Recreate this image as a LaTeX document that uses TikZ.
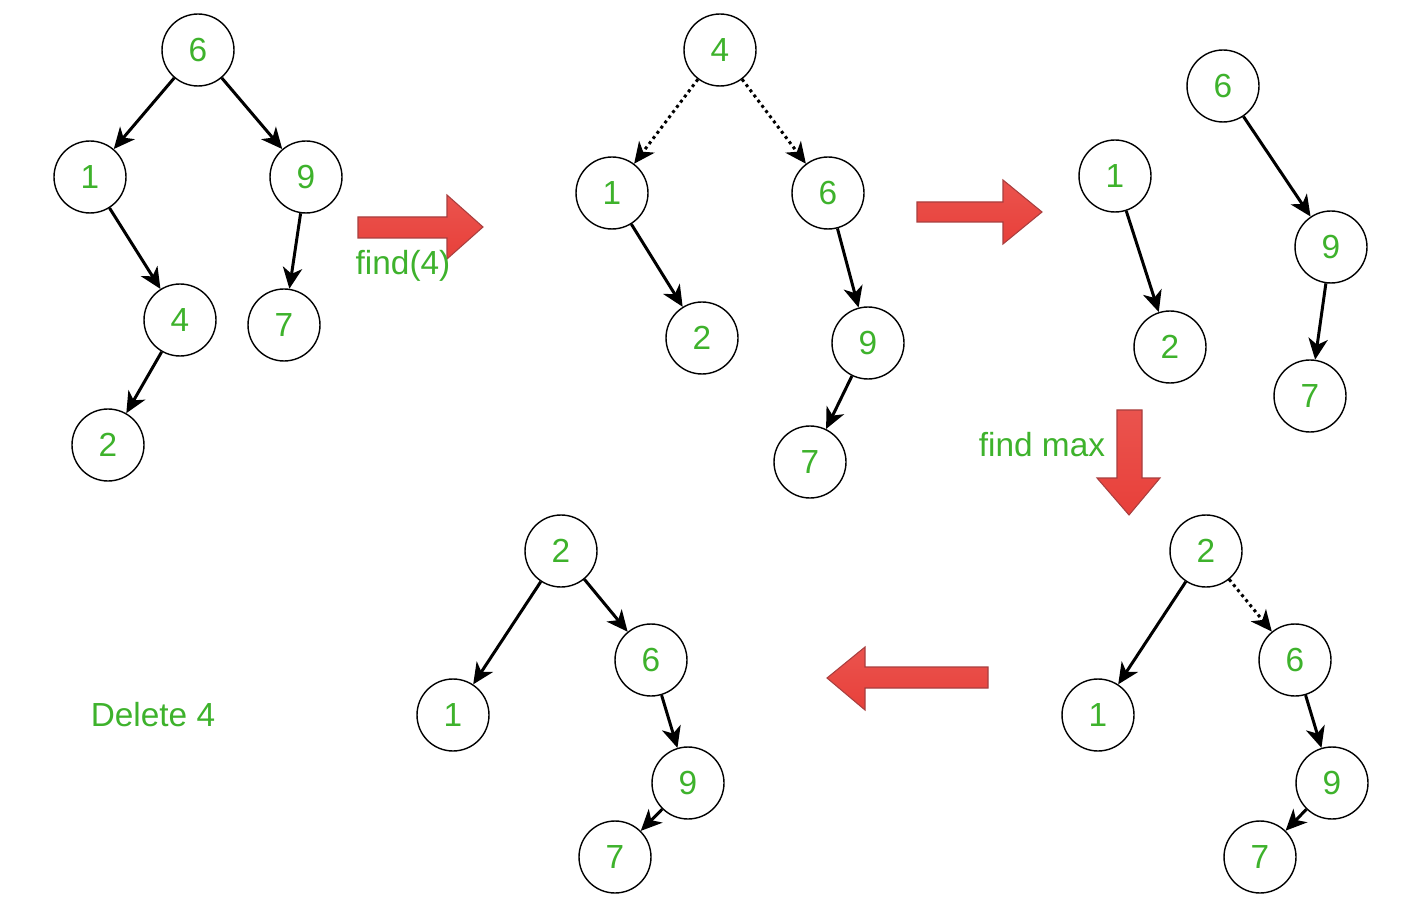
\documentclass[tikz,border=0pt]{standalone}
\usepackage{fontspec}
\setmainfont{Liberation Sans}
\usetikzlibrary{arrows.meta}
\definecolor{numgreen}{RGB}{62,178,44}
\definecolor{blockred}{RGB}{232,64,58}
\definecolor{blockedge}{RGB}{168,62,62}

\begin{document}
\begin{tikzpicture}[x=0.02cm,y=-0.02cm,
  key/.style={circle,draw,line width=0.8pt,minimum size=1.44cm,inner sep=0pt,
    text=numgreen,font=\fontsize{19}{22}\selectfont},
  link/.style={-{Stealth[length=12pt,width=11pt,inset=3.5pt]},line width=1.7pt},
  weak/.style={link,dotted},
  caption/.style={text=numgreen,font=\fontsize{19}{22}\selectfont,inner sep=0pt},
  block/.style={draw=blockedge,line width=0.6pt,top color=blockred!90!white,bottom color=blockred}]
  \useasboundingbox (0,0) rectangle (1402,908);
  % starting tree
  \node[key] (a6) at (198,50) {6};
  \node[key] (a1) at (90,177) {1};
  \node[key] (a9) at (306,177) {9};
  \node[key] (a4) at (180,320) {4};
  \node[key] (a7) at (284,325) {7};
  \node[key] (a2) at (108,445) {2};
  \draw[link] (a6) -- (a1); \draw[link] (a6) -- (a9);
  \draw[link] (a1) -- (a4); \draw[link] (a9) -- (a7);
  \draw[link] (a4) -- (a2);
  \draw[block] (358,217) -- (447,217) -- (447,195) -- (483,227) -- (447,259) -- (447,238) -- (358,238) -- cycle;
  \node[caption] (findfour) at (403,266) {find(4)};
  % after splay of 4
  \node[key] (b4) at (720,50) {4};
  \node[key] (b1) at (612,193) {1};
  \node[key] (b6) at (828,193) {6};
  \node[key] (b2) at (702,338) {2};
  \node[key] (b9) at (868,343) {9};
  \node[key] (b7) at (810,462) {7};
  \draw[weak] (b4) -- (b1); \draw[weak] (b4) -- (b6);
  \draw[link] (b1) -- (b2); \draw[link] (b6) -- (b9);
  \draw[link] (b9) -- (b7);
  \draw[block] (917,202) -- (1003,202) -- (1003,180) -- (1042,212) -- (1003,244) -- (1003,222) -- (917,222) -- cycle;
  % two subtrees
  \node[key] (c1) at (1115,176) {1};
  \node[key] (c2) at (1170,347) {2};
  \node[key] (c6) at (1223,86) {6};
  \node[key] (c9) at (1331,247) {9};
  \node[key] (c7) at (1310,396) {7};
  \draw[link] (c1) -- (c2);
  \draw[link] (c6) -- (c9); \draw[link] (c9) -- (c7);
  \draw[block] (1117,410) -- (1142,410) -- (1142,478) -- (1160,478) -- (1129,515) -- (1097,478) -- (1117,478) -- cycle;
  \node[caption] (findmax) at (1042,445) {find max};
  % joined tree
  \node[key] (d2) at (1206,551) {2};
  \node[key] (d1) at (1098,715) {1};
  \node[key] (d6) at (1295,660) {6};
  \node[key] (d9) at (1332,783) {9};
  \node[key] (d7) at (1260,857) {7};
  \draw[link] (d2) -- (d1); \draw[weak] (d2) -- (d6);
  \draw[link] (d6) -- (d9); \draw[link] (d9) -- (d7);
  \draw[block] (988,667) -- (865,667) -- (865,647) -- (827,678) -- (865,710) -- (865,688) -- (988,688) -- cycle;
  % result
  \node[key] (e2) at (561,551) {2};
  \node[key] (e1) at (453,715) {1};
  \node[key] (e6) at (651,660) {6};
  \node[key] (e9) at (688,783) {9};
  \node[key] (e7) at (615,857) {7};
  \draw[link] (e2) -- (e1); \draw[link] (e2) -- (e6);
  \draw[link] (e6) -- (e9); \draw[link] (e9) -- (e7);
  \node[caption] (deletefour) at (153,715) {Delete 4};
\end{tikzpicture}
\end{document}
